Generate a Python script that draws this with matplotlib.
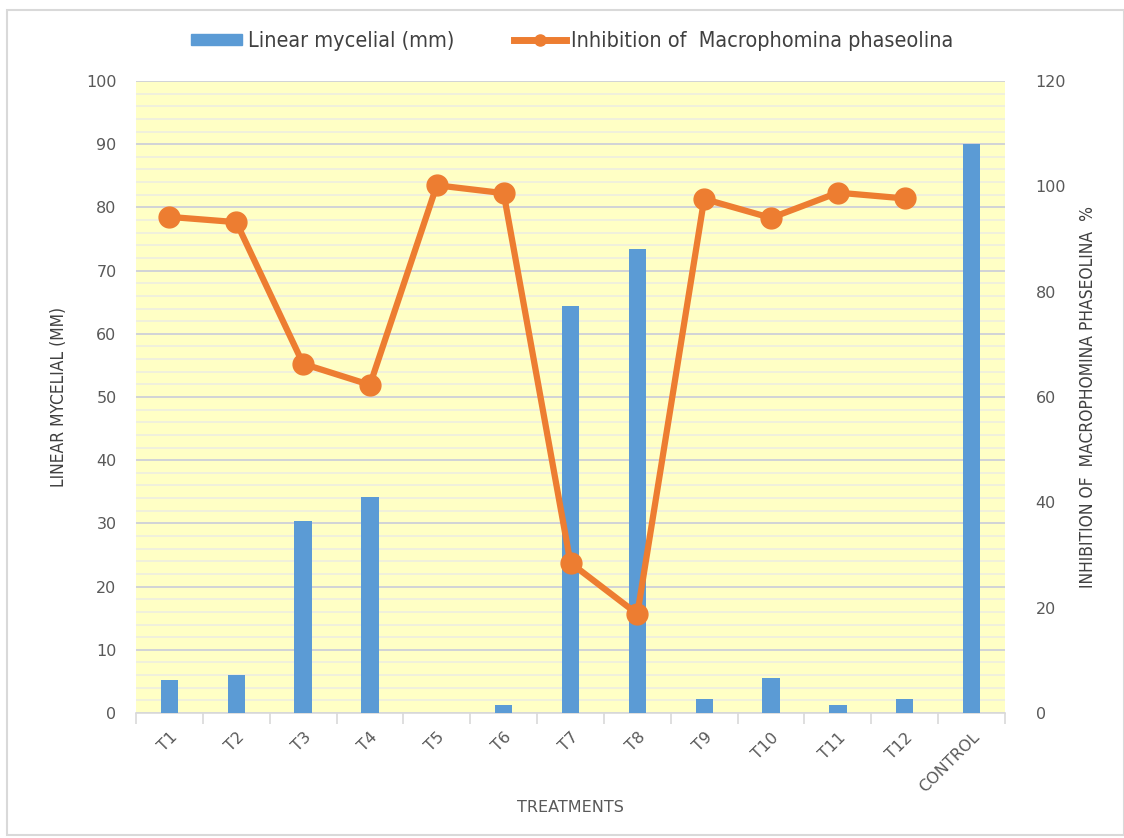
import matplotlib
matplotlib.use("Agg")
import matplotlib.pyplot as plt
from matplotlib.patches import Rectangle
from matplotlib.lines import Line2D
from matplotlib.ticker import MultipleLocator

# data
treatments = ["T1", "T2", "T3", "T4", "T5", "T6", "T7", "T8", "T9", "T10", "T11", "T12", "CONTROL"]
mycelial = [5.3, 6.0, 30.4, 34.2, 0.0, 1.2, 64.4, 73.4, 2.2, 5.5, 1.2, 2.2, 90.0]
inhibition = [94.2, 93.2, 66.3, 62.3, 100.2, 98.7, 28.5, 18.8, 97.6, 94.0, 98.8, 97.7]

narrow = ["DejaVu Sans"]
blue = "#5B9BD5"
orange = "#ED7D31"
tick_col = "#595959"

fig = plt.figure(figsize=(11.24, 8.38), dpi=100)
# chart border like the spreadsheet frame
fig.patches.append(Rectangle((7 / 1124, 0.003), 1 - 7 / 1124, 1 - 10 / 838 - 0.003,
                             transform=fig.transFigure, fill=False,
                             edgecolor="#D9D9D9", linewidth=1.5))

ax = fig.add_axes([136 / 1124, 1 - 713 / 838, (1005 - 136) / 1124, (713 - 81) / 838])
ax.set_facecolor("#FFFFC5")
x = list(range(len(treatments)))
ax.bar(x, mycelial, width=0.26, color=blue, zorder=3)
ax.set_xlim(-0.5, len(treatments) - 0.5)
ax.set_ylim(0, 100)
ax.yaxis.set_major_locator(MultipleLocator(10))
ax.yaxis.set_minor_locator(MultipleLocator(2))
ax.grid(axis="y", which="major", color="#C9CCDA", linewidth=1.2, zorder=1)
ax.grid(axis="y", which="minor", color="#EDEDE0", linewidth=1.2, zorder=1)
ax.set_axisbelow(True)
for s in ["top", "left", "right"]:
    ax.spines[s].set_visible(False)
ax.spines["bottom"].set_color("#D9D9D9")
ax.spines["bottom"].set_linewidth(1.2)

ax.set_xticks([i - 0.5 for i in range(len(treatments) + 1)])
ax.set_xticklabels([])
ax.tick_params(axis="x", which="major", length=8, color="#D9D9D9", width=1.2)
ax.set_xticks(x, minor=True)
ax.set_xticklabels(treatments, minor=True, rotation=45, ha="right", va="top",
                   rotation_mode="anchor", fontsize=11.5, color=tick_col)
ax.tick_params(axis="x", which="minor", length=0, pad=12)
ax.tick_params(axis="y", which="both", length=0, labelsize=11.5, labelcolor=tick_col, pad=14)
ax.set_ylabel("LINEAR MYCELIAL (MM)", family=narrow, stretch="condensed", fontsize=12.5,
              color="#404040", labelpad=13)
ax.set_xlabel("TREATMENTS", fontsize=11.5, color="#595959")
ax.xaxis.set_label_coords(0.5, -(800 - 713) / (713 - 81))

ax2 = ax.twinx()
ax2.plot(x[:len(inhibition)], inhibition, color=orange, linewidth=4.5, marker="o",
         markersize=15, zorder=5, solid_capstyle="round")
ax2.set_ylim(0, 120)
ax2.yaxis.set_major_locator(MultipleLocator(20))
for s in ax2.spines.values():
    s.set_visible(False)
ax2.tick_params(axis="y", length=0, labelsize=11.5, labelcolor=tick_col, pad=22)
ax2.set_ylabel("INHIBITION OF  MACROPHOMINA PHASEOLINA  %", family=narrow, stretch="condensed",
               fontsize=12.5, color="#404040", labelpad=9)

handles = [Rectangle((0, 0), 1, 1, color=blue),
           Line2D([0], [0], color=orange, linewidth=5, marker="o", markersize=8)]
fig.legend(handles, ["Linear mycelial (mm)", "Inhibition of  Macrophomina phaseolina"],
           loc="center", bbox_to_anchor=(572 / 1124, 1 - 41 / 838), ncol=2, frameon=False,
           prop={"family": narrow, "stretch": "condensed", "size": 15.5},
           handlelength=2.4, handleheight=0.45, columnspacing=2.8, handletextpad=0.25,
           labelcolor="#404040")

fig.savefig("out.png", dpi=100)
